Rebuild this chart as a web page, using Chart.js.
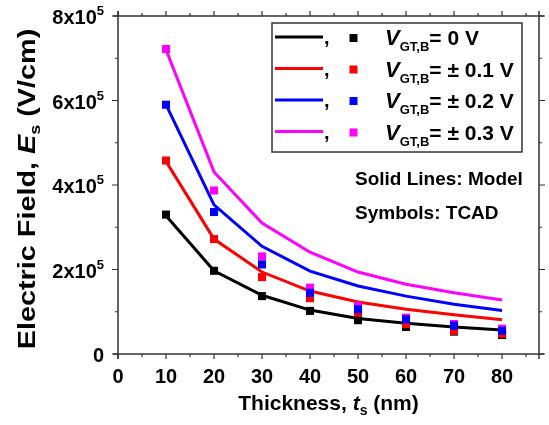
<!DOCTYPE html>
<html>
<head>
<meta charset="utf-8">
<script src="https://cdn.jsdelivr.net/npm/chart.js@4"></script>
<style>
  html, body { margin: 0; padding: 0; background: #fff; }
  #wrap { width: 549px; height: 425px; }
</style>
</head>
<body>
<div id="wrap"><canvas id="efield" width="549" height="425"></canvas></div>
<script>
/* ── Data: surface field vs. thickness ───────────────────────────────── */
const thickness = [10, 20, 30, 40, 50, 60, 70, 80];   // nm

// model curves (V/cm)
const model0  = [3.27e5, 1.97e5, 1.39e5, 1.04e5, 0.84e5, 0.73e5, 0.64e5, 0.57e5];
const model01 = [4.56e5, 2.72e5, 1.94e5, 1.49e5, 1.23e5, 1.06e5, 0.93e5, 0.81e5];
const model02 = [5.90e5, 3.53e5, 2.55e5, 1.96e5, 1.61e5, 1.37e5, 1.18e5, 1.03e5];
const model03 = [7.20e5, 4.31e5, 3.10e5, 2.41e5, 1.94e5, 1.65e5, 1.45e5, 1.28e5];

// TCAD points (V/cm)
const tcad0  = [3.30e5, 1.97e5, 1.37e5, 1.02e5, 0.80e5, 0.64e5, 0.53e5, 0.45e5];
const tcad01 = [4.58e5, 2.72e5, 1.82e5, 1.32e5, 0.98e5, 0.71e5, 0.55e5, 0.48e5];
const tcad02 = [5.90e5, 3.36e5, 2.12e5, 1.45e5, 1.06e5, 0.82e5, 0.67e5, 0.55e5];
const tcad03 = [7.22e5, 3.87e5, 2.31e5, 1.57e5, 1.14e5, 0.86e5, 0.71e5, 0.60e5];

const biasLabels = ['0 V', '\u00b1 0.1 V', '\u00b1 0.2 V', '\u00b1 0.3 V'];
const colors     = ['#000000', '#ff0000', '#0000ff', '#ff00ff'];

const xTicksMajor = [0, 10, 20, 30, 40, 50, 60, 70, 80];
const yTickMant   = [0, 2, 4, 6, 8];   // x10^5

const FONT = '"Liberation Sans", Arial, sans-serif';

function pts(ys) { return thickness.map((x, i) => ({ x, y: ys[i] })); }

function lineSet(ys, color, order) {
  return { type: 'line', data: pts(ys), borderColor: color, borderWidth: 3,
           pointRadius: 0, tension: 0, fill: false, order };
}
function markSet(ys, color, order) {
  return { type: 'scatter', data: pts(ys), showLine: false, pointStyle: 'rect',
           pointRadius: 5.7, backgroundColor: color, borderColor: color,
           borderWidth: 0, order };
}

/* ── Rich text helper (italic / sub / superscripts) ──────────────────── */
function richWidth(ctx, parts) {
  let w = 0;
  parts.forEach(p => { ctx.font = p.font; w += ctx.measureText(p.t).width; });
  return w;
}
function drawRich(ctx, x, y, parts) {
  parts.forEach(p => {
    ctx.font = p.font;
    ctx.fillText(p.t, x, y + (p.dy || 0));
    x += ctx.measureText(p.t).width;
  });
}

/* ── Frame, ticks, labels and legend ─────────────────────────────────── */
const framePlugin = {
  id: 'frame',
  afterDraw(chart) {
    const { ctx, chartArea: a, scales } = chart;
    const xs = scales.x, ys = scales.y;
    ctx.save();
    ctx.strokeStyle = '#333';
    ctx.fillStyle = '#000';
    ctx.lineWidth = 1.5;

    // axis lines, a bit past the corners
    ctx.beginPath();
    ctx.moveTo(a.left - 5, a.bottom); ctx.lineTo(a.right + 5, a.bottom);
    ctx.moveTo(a.left - 5, a.top);    ctx.lineTo(a.right + 5, a.top);
    ctx.moveTo(a.left, a.top - 5);    ctx.lineTo(a.left, a.bottom + 5);
    ctx.moveTo(a.right, a.top - 5);   ctx.lineTo(a.right, a.bottom + 5);
    ctx.stroke();

    // outward ticks, minor every 5 nm / 1x10^5
    ctx.lineWidth = 1.2;
    ctx.beginPath();
    xs.ticks.forEach(t => {
      if (t.value % 5 !== 0) return;
      const px = xs.getPixelForValue(t.value);
      const len = t.value % 10 === 0 ? 5 : 3;
      ctx.moveTo(px, a.bottom); ctx.lineTo(px, a.bottom + len);
      ctx.moveTo(px, a.top);    ctx.lineTo(px, a.top - len);
    });
    ys.ticks.forEach(t => {
      const py = ys.getPixelForValue(t.value);
      const len = Math.round(t.value / 1e5) % 2 === 0 ? 6 : 3;
      ctx.moveTo(a.left, py);  ctx.lineTo(a.left - len, py);
      ctx.moveTo(a.right, py); ctx.lineTo(a.right + len, py);
    });
    ctx.stroke();

    // x tick labels
    ctx.textAlign = 'center';
    ctx.textBaseline = 'alphabetic';
    ctx.font = 'bold 20px ' + FONT;
    xTicksMajor.forEach(v => {
      ctx.fillText(String(v), xs.getPixelForValue(v), a.bottom + 29);
    });

    // y tick labels  N x 10^5
    ctx.textAlign = 'left';
    yTickMant.forEach(m => {
      const py = ys.getPixelForValue(m * 1e5);
      const parts = m === 0
        ? [{ t: '0', font: 'bold 20px ' + FONT }]
        : [{ t: m + 'x10', font: 'bold 20px ' + FONT },
           { t: '5', font: 'bold 13px ' + FONT, dy: -9 }];
      const w = richWidth(ctx, parts);
      drawRich(ctx, 104 - w, py + 8, parts);
    });

    // x axis title
    const xt = [
      { t: 'Thickness, ', font: 'bold 21px ' + FONT },
      { t: 't', font: 'italic bold 21px ' + FONT },
      { t: 's', font: 'bold 14px ' + FONT, dy: 5 },
      { t: ' (nm)', font: 'bold 21px ' + FONT }
    ];
    const xw = richWidth(ctx, xt);
    drawRich(ctx, (a.left + a.right) / 2 - xw / 2, 410, xt);

    // y axis title (rotated, stretched along its length)
    const yt = [
      { t: 'Electric Field, ', font: 'bold 24px ' + FONT },
      { t: 'E', font: 'italic bold 24px ' + FONT },
      { t: 's', font: 'bold 15px ' + FONT, dy: 5 },
      { t: ' (V/cm)', font: 'bold 24px ' + FONT }
    ];
    const yw = richWidth(ctx, yt);
    ctx.save();
    ctx.translate(35, (a.top + a.bottom) / 2 + 4);
    ctx.rotate(-Math.PI / 2);
    ctx.scale(1.2, 1);
    drawRich(ctx, -yw / 2, 0, yt);
    ctx.restore();

    // legend box
    ctx.strokeStyle = '#333';
    ctx.lineWidth = 1.5;
    ctx.strokeRect(272, 23, 250, 129);
    biasLabels.forEach((lab, i) => {
      const cy = 38 + i * 31.5;
      ctx.strokeStyle = colors[i];
      ctx.lineWidth = 3;
      ctx.beginPath();
      ctx.moveTo(275, cy - 1); ctx.lineTo(323, cy - 1);
      ctx.stroke();
      ctx.fillStyle = '#000';
      ctx.font = 'bold 20px ' + FONT;
      ctx.fillText(',', 324, cy + 6);
      ctx.fillStyle = colors[i];
      ctx.fillRect(349.5, cy - 4, 8, 8);
      ctx.fillStyle = '#000';
      drawRich(ctx, 385, cy + 7, [
        { t: 'V', font: 'italic bold 22px ' + FONT },
        { t: 'GT,B', font: 'bold 13px ' + FONT, dy: 6 },
        { t: '= ' + lab, font: 'bold 21px ' + FONT }
      ]);
    });

    // notes
    ctx.font = 'bold 19px ' + FONT;
    ctx.fillText('Solid Lines: Model', 355, 185);
    ctx.fillText('Symbols: TCAD', 355, 219);
    ctx.restore();
  }
};

/* ── Chart ───────────────────────────────────────────────────────────── */
new Chart(document.getElementById('efield').getContext('2d'), {
  data: {
    datasets: [
      markSet(tcad02, colors[2], 1),
      markSet(tcad03, colors[3], 2),
      markSet(tcad01, colors[1], 3),
      markSet(tcad0,  colors[0], 4),
      lineSet(model0,  colors[0], 5),
      lineSet(model01, colors[1], 6),
      lineSet(model02, colors[2], 7),
      lineSet(model03, colors[3], 8),
    ],
  },
  options: {
    responsive: false,
    animation: false,
    layout: { padding: { top: 16, right: 10, left: 0, bottom: 0 } },
    plugins: { legend: { display: false }, tooltip: { enabled: false } },
    scales: {
      x: {
        type: 'linear', min: 0, max: 87.7,
        ticks: { display: false, stepSize: 5, includeBounds: false },
        grid: { display: false }, border: { display: false },
        afterFit: (s) => { s.height = 71; },
      },
      y: {
        type: 'linear', min: 0, max: 8e5,
        ticks: { display: false, stepSize: 1e5 },
        grid: { display: false }, border: { display: false },
        afterFit: (s) => { s.width = 118; },
      },
    },
  },
  plugins: [framePlugin],
});
</script>
</body>
</html>
